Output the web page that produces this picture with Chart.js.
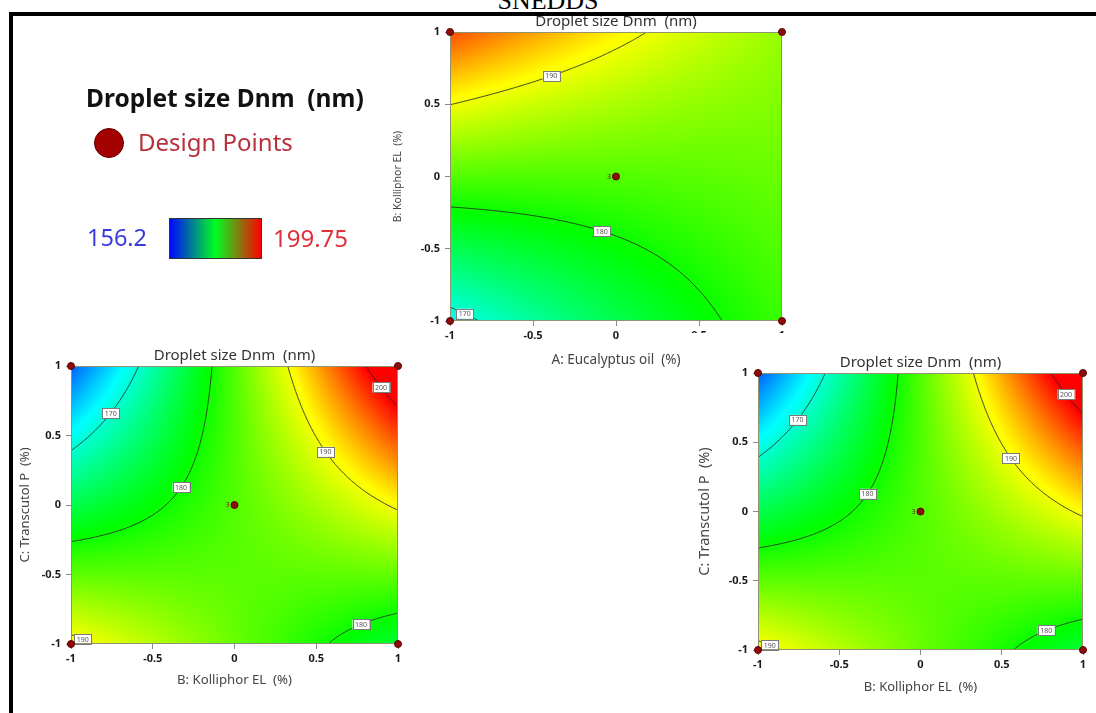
<!DOCTYPE html>
<html>
<head>
<meta charset="utf-8">
<script src="https://cdn.jsdelivr.net/npm/chart.js@4.4.1/dist/chart.umd.min.js"></script>
<style>
    html, body { margin: 0; padding: 0; background: #fff; }
    #page { position: relative; width: 1096px; height: 713px; overflow: hidden; background: #fff; font-family: 'Noto Sans', sans-serif; }
    #page canvas { position: absolute; left: 0; top: 0; }
    .rule-top { position: absolute; left: 9px; top: 12px; width: 1087px; height: 4px; background: #000; }
    .rule-left { position: absolute; left: 9px; top: 12px; width: 4px; height: 701px; background: #000; }
    #heading { position: absolute; left: 0; top: -12px; width: 1096px; text-align: center; font: 26px 'Liberation Serif', serif; line-height: 26px; color: #000; }
    .key { position: absolute; white-space: pre; line-height: 1; }
    #key-title { left: 86px; top: 86px; font-weight: bold; font-size: 24.5px; color: #111; }
    #key-dot { position: absolute; left: 94px; top: 128px; width: 28px; height: 28px; border-radius: 50%; background: #a30000; border: 1.5px solid #5e0000; }
    #key-points { left: 138px; top: 130px; font-size: 24px; color: #b8303c; }
    #key-min { left: 87px; top: 226px; font-size: 23.5px; color: #3b3bdc; }
    #key-max { left: 273px; top: 226px; font-size: 24px; color: #e0303a; }
    #key-ramp { position: absolute; left: 169px; top: 218px; width: 91px; height: 39px; border: 1px solid #333; background: linear-gradient(to right, #0008ff, #00ff20, #ff0000); }
</style>
</head>
<body>
<div id="page">
    <div id="heading">SNEDDS</div>
    <canvas id="chart-ab" width="1096" height="713"></canvas>
    <canvas id="chart-bc-left" width="1096" height="713"></canvas>
    <canvas id="chart-bc-right" width="1096" height="713"></canvas>
    <div class="rule-top"></div>
    <div class="rule-left"></div>
    <div class="key" id="key-title">Droplet size Dnm  (nm)</div>
    <div id="key-dot"></div>
    <div class="key" id="key-points">Design Points</div>
    <div class="key" id="key-min">156.2</div>
    <div id="key-ramp"></div>
    <div class="key" id="key-max">199.75</div>
</div>
<script>
// Colour range of the response and where the rainbow hues sit
const colorMin = 156.2;
const colorMax = 199.75;
const rampValues = [156.2, 168.0, 179.5, 190.5, 199.75];
const contourLevels = [170, 180, 190, 200];

// Dnm (nm) vs A: Eucalyptus oil (x = -1, 0, 1) and B: Kolliphor EL (rows), C at 0
const dnmAB_Blow = [168.6, 176.0, 182.0];
const dnmAB_Bmid = [183.0, 183.0, 184.0];
const dnmAB_Bhigh = [197.0, 191.0, 186.0];

// Dnm (nm) vs B: Kolliphor EL (x = -1, 0, 1) and C: Transcutol P (rows), A at 0
const dnmBC_Clow = [191.0, 184.0, 177.0];
const dnmBC_Cmid = [176.0, 183.0, 190.5];
const dnmBC_Chigh = [160.5, 183.0, 204.0];

// Design points (coded) and replicate counts
const designX = [-1, 1, -1, 1, 0];
const designY = [-1, -1, 1, 1, 0];
const designRuns = [1, 1, 1, 1, 3];

// Axis ticks
const tickValues = [-1, -0.5, 0, 0.5, 1];
const tickLabels = ['-1', '-0.5', '0', '0.5', '1'];

const FONT = "'Noto Sans', sans-serif";

// Quadratic surface through a 3x3 grid of coded points
function lagrange(t) {
    return [t * (t - 1) / 2, 1 - t * t, t * (t + 1) / 2];
}
function makeSurface(rows) {
    return (x, y) => {
        const lx = lagrange(x), ly = lagrange(y);
        let v = 0;
        for (let j = 0; j < 3; j++)
            for (let i = 0; i < 3; i++) v += rows[j][i] * lx[i] * ly[j];
        return v;
    };
}

// blue -> cyan -> green -> yellow -> red
const rampStops = [[0, 0, 255], [0, 255, 255], [0, 255, 0], [255, 255, 0], [255, 0, 0]];
function rampColor(v) {
    v = Math.max(colorMin, Math.min(colorMax, v));
    let k = 0;
    while (k < 3 && v > rampValues[k + 1]) k++;
    const f = (v - rampValues[k]) / (rampValues[k + 1] - rampValues[k]);
    const a = rampStops[k], b = rampStops[k + 1];
    return [a[0] + (b[0] - a[0]) * f, a[1] + (b[1] - a[1]) * f, a[2] + (b[2] - a[2]) * f];
}

// Marching squares, segments chained into polylines
function traceContours(fn, level, n) {
    const coord = k => -1 + 2 * k / n;
    const vals = [];
    for (let j = 0; j <= n; j++) {
        const row = [];
        for (let i = 0; i <= n; i++) row.push(fn(coord(i), coord(j)));
        vals.push(row);
    }
    const pointOf = {};
    const links = {};
    const link = (a, b) => {
        (links[a] = links[a] || []).push(b);
        (links[b] = links[b] || []).push(a);
    };
    const hit = (key, i0, j0, i1, j1) => {
        const v0 = vals[j0][i0], v1 = vals[j1][i1];
        if ((v0 >= level) === (v1 >= level)) return null;
        if (!pointOf[key]) {
            const t = (level - v0) / (v1 - v0);
            pointOf[key] = [coord(i0) + (coord(i1) - coord(i0)) * t, coord(j0) + (coord(j1) - coord(j0)) * t];
        }
        return key;
    };
    for (let j = 0; j < n; j++) {
        for (let i = 0; i < n; i++) {
            const e = [
                hit('h' + i + '_' + j, i, j, i + 1, j),
                hit('v' + (i + 1) + '_' + j, i + 1, j, i + 1, j + 1),
                hit('h' + i + '_' + (j + 1), i, j + 1, i + 1, j + 1),
                hit('v' + i + '_' + j, i, j, i, j + 1)
            ].filter(Boolean);
            if (e.length === 2) link(e[0], e[1]);
            else if (e.length === 4) { link(e[0], e[1]); link(e[2], e[3]); }
        }
    }
    const used = new Set();
    const chains = [];
    const keys = Object.keys(links);
    const starts = keys.filter(k => links[k].length === 1).concat(keys);
    for (const s of starts) {
        if (used.has(s)) continue;
        const chain = [s];
        used.add(s);
        let cur = s;
        while (true) {
            const nxt = links[cur].find(k => !used.has(k));
            if (!nxt) break;
            chain.push(nxt);
            used.add(nxt);
            cur = nxt;
        }
        chains.push(chain.map(k => pointOf[k]));
    }
    return chains;
}

// Draws the coloured response surface, contours, labels and panel title
function surfacePlugin(spec) {
    const fn = makeSurface(spec.rows);
    return {
        id: 'surface',
        beforeDraw(chart) {
            if (!spec.cover) return;
            const ctx = chart.ctx;
            ctx.save();
            ctx.fillStyle = '#fff';
            ctx.fillRect(spec.cover.x, spec.cover.y, chart.width - spec.cover.x, chart.height - spec.cover.y);
            ctx.restore();
        },
        beforeDatasetsDraw(chart) {
            const ctx = chart.ctx;
            const area = chart.chartArea;
            const xs = chart.scales.x, ys = chart.scales.y;
            const left = Math.round(area.left), top = Math.round(area.top);
            const w = Math.round(area.right) - left, h = Math.round(area.bottom) - top;

            const img = ctx.createImageData(w, h);
            for (let py = 0; py < h; py++) {
                const yv = ys.getValueForPixel(top + py + 0.5);
                for (let px = 0; px < w; px++) {
                    const xv = xs.getValueForPixel(left + px + 0.5);
                    const c = rampColor(fn(xv, yv));
                    const k = (py * w + px) * 4;
                    img.data[k] = c[0];
                    img.data[k + 1] = c[1];
                    img.data[k + 2] = c[2];
                    img.data[k + 3] = 255;
                }
            }
            ctx.putImageData(img, left, top);

            // contour lines
            const labels = [];
            ctx.save();
            ctx.beginPath();
            ctx.rect(area.left, area.top, area.right - area.left, area.bottom - area.top);
            ctx.clip();
            ctx.strokeStyle = 'rgba(35, 45, 35, 0.85)';
            ctx.lineWidth = 1;
            contourLevels.forEach(level => {
                traceContours(fn, level, 120).forEach(chain => {
                    if (chain.length < 2) return;
                    const pts = chain.map(p => [xs.getPixelForValue(p[0]), ys.getPixelForValue(p[1])]);
                    ctx.beginPath();
                    pts.forEach((p, i) => i ? ctx.lineTo(p[0], p[1]) : ctx.moveTo(p[0], p[1]));
                    ctx.stroke();
                    // label at half the arc length
                    let total = 0;
                    const seg = [];
                    for (let i = 1; i < pts.length; i++) {
                        const d = Math.hypot(pts[i][0] - pts[i - 1][0], pts[i][1] - pts[i - 1][1]);
                        seg.push(d);
                        total += d;
                    }
                    let run = 0;
                    for (let i = 0; i < seg.length; i++) {
                        if (run + seg[i] >= total / 2) {
                            const f = (total / 2 - run) / seg[i];
                            labels.push({
                                x: pts[i][0] + (pts[i + 1][0] - pts[i][0]) * f,
                                y: pts[i][1] + (pts[i + 1][1] - pts[i][1]) * f,
                                text: String(level)
                            });
                            break;
                        }
                        run += seg[i];
                    }
                });
            });
            ctx.restore();

            ctx.save();
            ctx.font = '7px ' + FONT;
            ctx.textAlign = 'center';
            ctx.textBaseline = 'middle';
            labels.forEach(l => {
                const bw = 17, bh = 10;
                ctx.fillStyle = '#fff';
                ctx.fillRect(l.x - bw / 2, l.y - bh / 2, bw, bh);
                ctx.strokeStyle = '#7a7a7a';
                ctx.lineWidth = 1;
                ctx.strokeRect(Math.round(l.x - bw / 2) + 0.5, Math.round(l.y - bh / 2) + 0.5, bw, bh);
                ctx.fillStyle = '#555';
                ctx.fillText(l.text, l.x, l.y + 0.5);
            });

            // plot frame
            ctx.strokeStyle = '#8f9270';
            ctx.lineWidth = 1;
            ctx.strokeRect(left + 0.5, top + 0.5, w - 1, h - 1);

            // panel title
            ctx.fillStyle = '#333';
            ctx.font = '15px ' + FONT;
            ctx.fillText('Droplet size Dnm  (nm)', (area.left + area.right) / 2, area.top - 10);
            ctx.restore();
        },
        afterDatasetsDraw(chart) {
            const ctx = chart.ctx;
            const meta = chart.getDatasetMeta(0);
            ctx.save();
            ctx.font = '7px ' + FONT;
            ctx.fillStyle = '#5a1a05';
            ctx.textAlign = 'right';
            ctx.textBaseline = 'middle';
            meta.data.forEach((pt, i) => {
                if (designRuns[i] > 1) ctx.fillText(String(designRuns[i]), pt.x - 5, pt.y);
            });
            ctx.restore();
        }
    };
}

function axisOptions(spec, which) {
    const isX = which === 'x';
    return {
        type: 'linear',
        min: -1,
        max: 1,
        afterBuildTicks: s => { s.ticks = tickValues.map(v => ({ value: v })); },
        afterFit: s => { if (isX) s.height = spec.xAxisH; else s.width = spec.yAxisW; },
        ticks: {
            callback: (v, i) => tickLabels[i],
            color: '#1a1a1a',
            font: { family: FONT, size: 11, weight: 'bold' },
            padding: isX ? 3 : 5,
            maxRotation: 0,
            autoSkip: false
        },
        grid: { drawOnChartArea: false, drawTicks: true, tickLength: 5, color: '#8a8a8a' },
        border: { display: false },
        title: {
            display: true,
            text: isX ? spec.xTitle : spec.yTitle,
            color: '#444',
            font: { family: FONT, size: isX ? spec.xTitleSize : spec.yTitleSize },
            padding: 0
        }
    };
}

function makePanel(id, spec) {
    return new Chart(document.getElementById(id), {
        type: 'scatter',
        data: {
            datasets: [{
                data: designX.map((x, i) => ({ x: x, y: designY[i] })),
                pointRadius: 3.5,
                pointBackgroundColor: '#8e0b0b',
                pointBorderColor: '#5c0303',
                pointBorderWidth: 1,
                clip: false
            }]
        },
        options: {
            responsive: false,
            animation: false,
            events: [],
            layout: {
                padding: {
                    left: spec.left - spec.yAxisW,
                    top: spec.top,
                    right: 1096 - spec.right,
                    bottom: 713 - spec.bottom - spec.xAxisH
                }
            },
            plugins: { legend: { display: false }, tooltip: { enabled: false }, title: { display: false } },
            scales: { x: axisOptions(spec, 'x'), y: axisOptions(spec, 'y') }
        },
        plugins: [surfacePlugin(spec)]
    });
}

const gridAB = [dnmAB_Blow, dnmAB_Bmid, dnmAB_Bhigh];
const gridBC = [dnmBC_Clow, dnmBC_Cmid, dnmBC_Chigh];

makePanel('chart-ab', {
    rows: gridAB, left: 450, right: 782, top: 32, bottom: 321, yAxisW: 58.3, xAxisH: 47.1,
    xTitle: 'A: Eucalyptus oil  (%)', yTitle: 'B: Kolliphor EL  (%)', xTitleSize: 13.5, yTitleSize: 10.5
});
makePanel('chart-bc-left', {
    rows: gridBC, left: 71, right: 398, top: 366, bottom: 644, yAxisW: 53.8, xAxisH: 43.9,
    xTitle: 'B: Kolliphor EL  (%)', yTitle: 'C: Transcutol P  (%)', xTitleSize: 13.2, yTitleSize: 13
});
makePanel('chart-bc-right', {
    rows: gridBC, left: 758, right: 1083, top: 373, bottom: 650, yAxisW: 61.7, xAxisH: 44.8,
    xTitle: 'B: Kolliphor EL  (%)', yTitle: 'C: Transcutol P  (%)', xTitleSize: 13, yTitleSize: 14.5,
    cover: { x: 688, y: 333 }
});
</script>
</body>
</html>
